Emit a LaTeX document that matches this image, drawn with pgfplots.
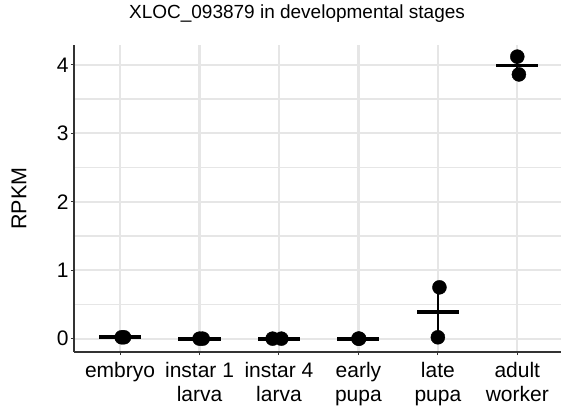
\documentclass[border=0pt]{standalone}
\usepackage{fontspec}
\setmainfont{Liberation Sans}
\usepackage{pgfplots}
\pgfplotsset{compat=1.18}
\definecolor{gridgrey}{HTML}{E6E6E6}
\definecolor{axisgrey}{HTML}{333333}

\begin{document}
\begin{tikzpicture}
\begin{axis}[
  scale only axis, width=487pt, height=307pt,
  xmin=0.42, xmax=6.55, ymin=-0.195, ymax=4.29,
  axis lines*=left,
  axis line style={axisgrey, line width=1.2pt},
  tick align=outside, major tick length=3pt, minor tick length=0pt,
  tick style={axisgrey, line width=1pt},
  xtick={1,2,3,4,5,6},
  xticklabels={embryo,{instar 1\\larva},{instar 4\\larva},{early\\pupa},{late\\pupa},{adult\\worker}},
  xticklabel style={align=center, font=\fontsize{21}{24}\selectfont, anchor=north, yshift=-4pt},
  ytick={0,1,2,3,4}, minor ytick={0.5,1.5,2.5,3.5},
  yticklabel style={font=\fontsize{21}{24}\selectfont, xshift=1pt},
  /pgf/number format/assume math mode=true,
  xmajorgrids=true, ymajorgrids=true, yminorgrids=true,
  x grid style={gridgrey, line width=2.3pt},
  y grid style={gridgrey, line width=1.8pt},
  minor grid style={gridgrey, line width=1.3pt},
  ylabel={RPKM},
  ylabel style={font=\fontsize{21.5}{24}\selectfont, at={(axis description cs:-0.113,0.5)}, anchor=center},
  title={XLOC\_093879 in developmental stages},
  title style={font=\fontsize{19}{24}\selectfont, at={(axis description cs:0.458,1.068)}, anchor=base},
]
% replicate points
\addplot[only marks, mark=*, mark size=7pt, black] coordinates {
  (1.02,0.02) (1.05,0.02)
  (2.00,0.00) (2.04,0.00)
  (2.92,0.00) (3.03,0.00)
  (4.00,0.00) (4.01,0.00)
  (5.02,0.75) (5.00,0.02)
  (6.00,4.12) (6.02,3.86)};
% mean bars
\addplot[draw=none, mark=none, black, error bars/.cd, x dir=both, x fixed=0.265,
  error mark=none, error bar style={line width=3.8pt, black}] coordinates {
  (1,0.02) (2,0) (3,0) (4,0) (5,0.385) (6,3.99)};
% range bars
\addplot[draw=none, mark=none, black, error bars/.cd, y dir=both, y explicit,
  error mark=none, error bar style={line width=2pt, black}] coordinates {
  (1,0.02) +- (0,0) (2,0) +- (0,0) (3,0) +- (0,0) (4,0) +- (0,0)
  (5,0.385) +- (0,0.365) (6,3.99) +- (0,0.13)};
\end{axis}
\pgfresetboundingbox
\useasboundingbox (-74pt,-57pt) rectangle (487pt,352pt);
\end{tikzpicture}
\end{document}
